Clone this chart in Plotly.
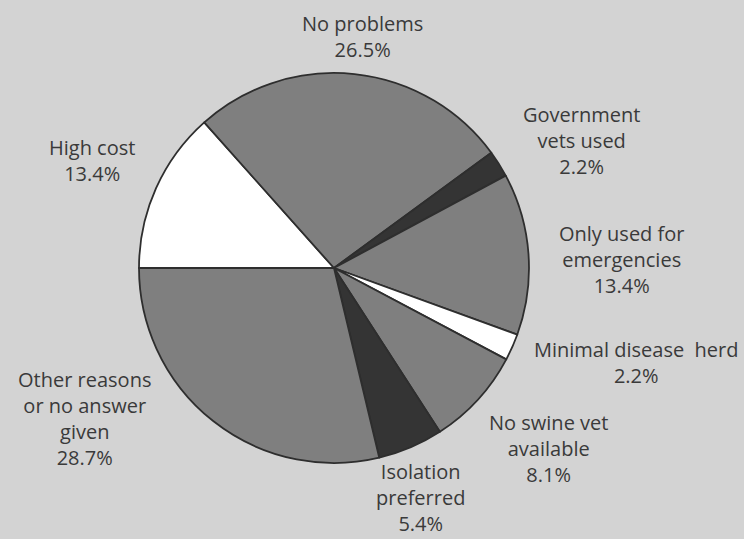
import plotly.graph_objects as go

labels = ["High cost", "No problems", "Government vets used", "Only used for emergencies",
          "Minimal disease herd", "No swine vet available", "Isolation preferred",
          "Other reasons or no answer given"]
values = [13.4, 26.5, 2.2, 13.4, 2.2, 8.1, 5.4, 28.7]
label_text = ["High cost<br>13.4%", "No problems<br>26.5%", "Government<br>vets used<br>2.2%",
              "Only used for<br>emergencies<br>13.4%", "Minimal disease  herd<br>2.2%",
              "No swine vet<br>available<br>8.1%", "Isolation<br>preferred<br>5.4%",
              "Other reasons<br>or no answer<br>given<br>28.7%"]
# label anchor positions in pixels (x centre, y centre from top)
label_pos = [(92, 160), (362, 37), (581, 140), (621, 259), (636, 362),
             (548, 448), (420, 497), (84, 418)]

GREY = "#7f7f7f"
DARK = "#343434"
WHITE = "#ffffff"
colors = [WHITE, GREY, DARK, GREY, WHITE, GREY, DARK, GREY]

W, H = 744, 539
cx, cy, r = 334, 268, 195

fig = go.Figure(go.Pie(
    labels=labels, values=values, sort=False, direction="clockwise",
    rotation=270, textinfo="none", hoverinfo="label+percent",
    marker=dict(colors=colors, line=dict(color="#2e2e2e", width=1.8)),
    domain=dict(x=[(cx - r) / W, (cx + r) / W], y=[1 - (cy + r) / H, 1 - (cy - r) / H]),
    showlegend=False,
))

for txt, (px, py) in zip(label_text, label_pos):
    fig.add_annotation(x=px / W, y=1 - py / H, xref="paper", yref="paper",
                       text=txt, showarrow=False, xanchor="center", yanchor="middle",
                       align="center",
                       font=dict(family="Open Sans, sans-serif", size=20, color="#3a3a3a"))

fig.update_layout(width=W, height=H, margin=dict(l=0, r=0, t=0, b=0),
                  paper_bgcolor="#d3d3d3", plot_bgcolor="#d3d3d3")
fig.write_html("out.html")
